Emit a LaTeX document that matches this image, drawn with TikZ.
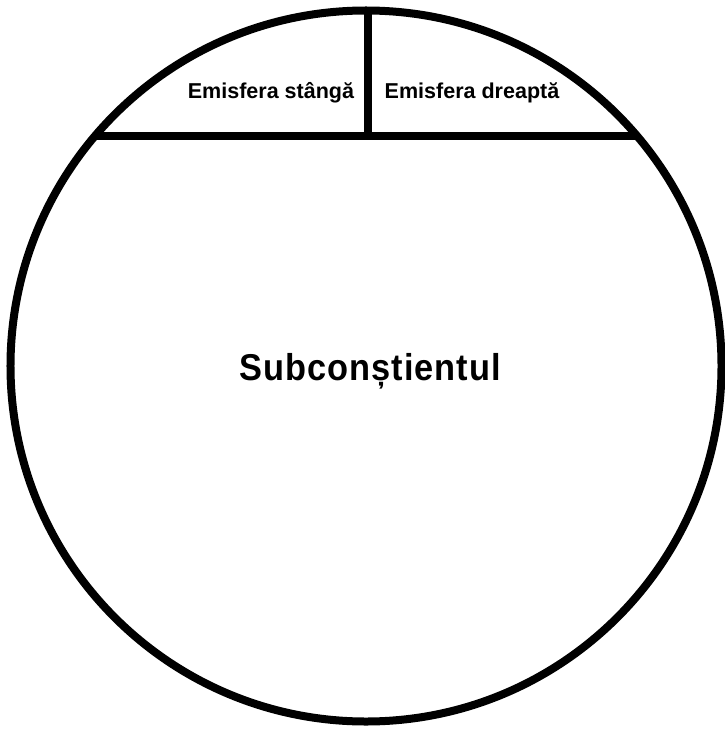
\documentclass[tikz,border=0pt]{standalone}
\usepackage{fontspec}
\usepackage{graphicx}
\setmainfont{Liberation Sans}
\begin{document}
\begin{tikzpicture}[x=1bp,y=-1bp,
  lbl/.style={font=\bfseries\fontsize{21.6}{24}\selectfont, anchor=base, inner sep=0pt},
  big/.style={font=\bfseries\fontsize{37.5}{42}\selectfont, anchor=base, inner sep=0pt},
  ln/.style={line width=7bp}]
\useasboundingbox (0,0) rectangle (725,729);
\node[circle, draw, line width=8bp, minimum size=711bp, inner sep=0pt] (c) at (366,366) {};
\coordinate (l) at (96,136);
\coordinate (r) at (636,136);
\coordinate (t) at (368,12);
\coordinate (m) at (368,136);
\draw[ln] (l) -- (r);
\draw[ln, line width=8bp] (t) -- (m);
\node[lbl] (ls) at (271,99) {Emisfera stângă};
\node[lbl] (rs) at (472,99) {Emisfera dreaptă};
\node[big] (sc) at (370,380) {\scalebox{0.92}[1]{\addfontfeature{LetterSpace=3}Subcon\char"0219 tientul}};
\end{tikzpicture}
\end{document}
